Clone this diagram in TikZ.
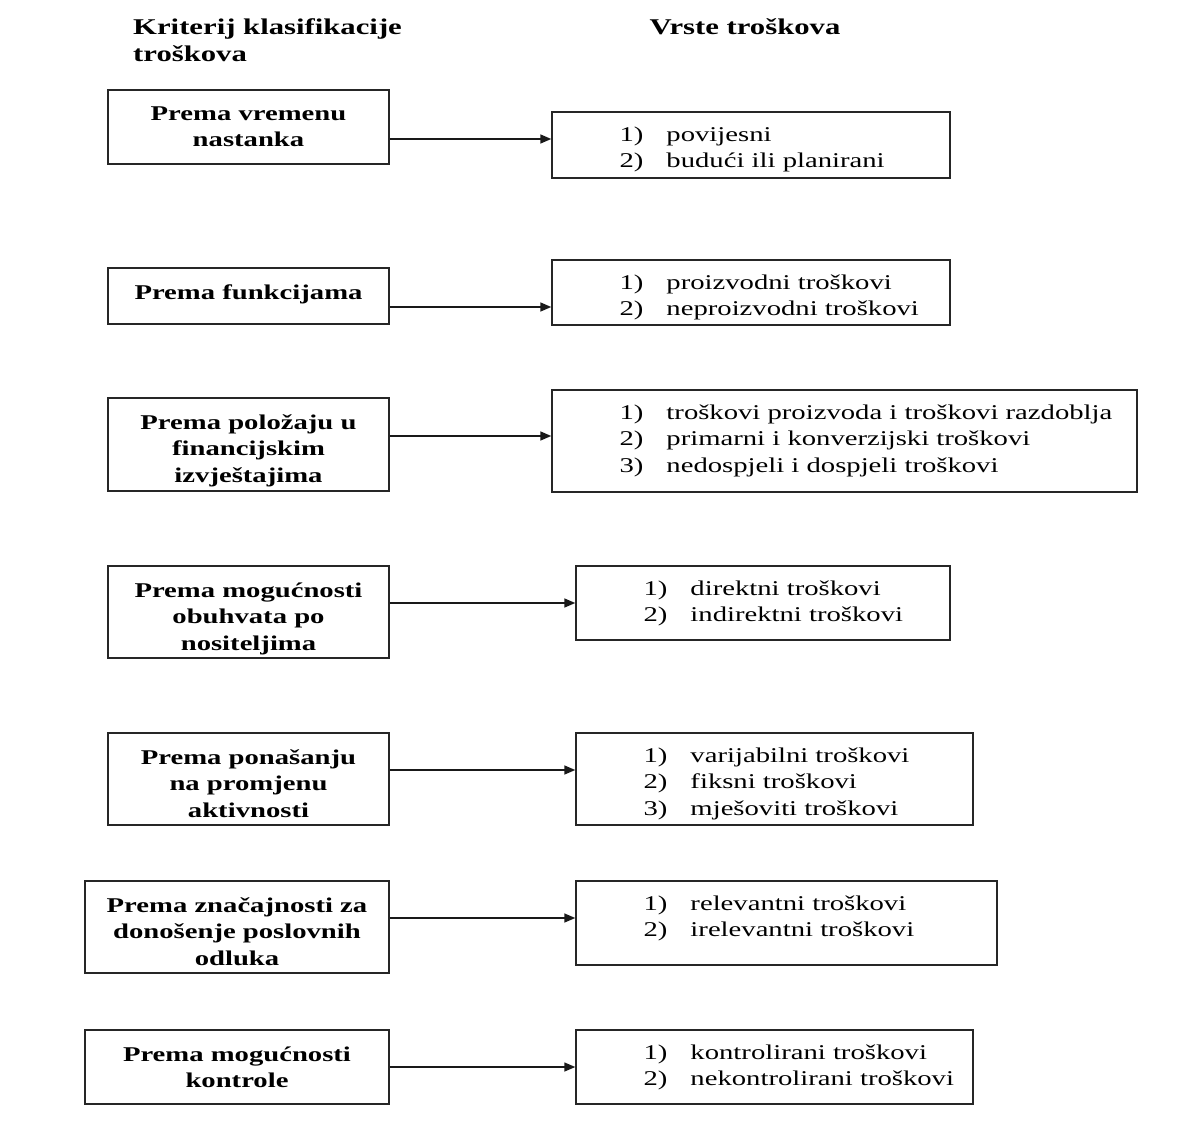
\documentclass[tikz,border=0pt]{standalone}
\usepackage{fontspec}
\setmainfont{Liberation Serif}[FakeStretch=1.365]
\usetikzlibrary{arrows.meta}

\newcommand{\stavka}[2]{\makebox[47pt][l]{#1}#2}

\begin{document}
\begin{tikzpicture}[x=1pt,y=-1pt,
	okvir/.style={draw=black!85,line width=1.4pt,inner sep=0pt},
	kriterij/.style={align=center,inner sep=0pt,anchor=north,
		font=\bfseries\fontsize{21}{26.5}\selectfont},
	vrsta/.style={align=left,inner sep=0pt,anchor=north west,
		font=\fontsize{21}{26.5}\selectfont},
	naslov/.style={align=left,inner sep=0pt,font=\bfseries\fontsize{22.5}{27}\selectfont},
	strelica/.style={-{Triangle[length=11pt,width=9pt]},line width=1.4pt,black!90}]
			\useasboundingbox (0,0) rectangle (1192,1123);

			% Naslovi
			\node[naslov,anchor=north west] (h1) at (133,18) {Kriterij klasifikacije\\troškova};
			\node[naslov,anchor=north] (h2) at (745,18) {Vrste troškova};

			% Kriteriji
			\node[okvir,minimum width=281pt,minimum height=74pt] (k1) at (248.5,127) {};
			\node[okvir,minimum width=281pt,minimum height=56pt] (k2) at (248.5,296) {};
			\node[okvir,minimum width=281pt,minimum height=93pt] (k3) at (248.5,444.5) {};
			\node[okvir,minimum width=281pt,minimum height=92pt] (k4) at (248.5,612) {};
			\node[okvir,minimum width=281pt,minimum height=92pt] (k5) at (248.5,779) {};
			\node[okvir,minimum width=304pt,minimum height=92pt] (k6) at (237,927) {};
			\node[okvir,minimum width=304pt,minimum height=74pt] (k7) at (237,1067) {};

			\node[kriterij] (kt1) at ([yshift=-17pt]k1.north) {Prema vremenu\\nastanka};
			\node[kriterij] (kt2) at ([yshift=-17pt]k2.north) {Prema funkcijama};
			\node[kriterij] (kt3) at ([yshift=-17pt]k3.north) {Prema položaju u\\financijskim\\izvještajima};
			\node[kriterij] (kt4) at ([yshift=-17pt]k4.north) {Prema mogućnosti\\obuhvata po\\nositeljima};
			\node[kriterij] (kt5) at ([yshift=-17pt]k5.north) {Prema ponašanju\\na promjenu\\aktivnosti};
			\node[kriterij] (kt6) at ([yshift=-17pt]k6.north) {Prema značajnosti za\\donošenje poslovnih\\odluka};
			\node[kriterij] (kt7) at ([yshift=-17pt]k7.north) {Prema mogućnosti\\kontrole};

			% Vrste troskova
			\node[okvir,minimum width=398pt,minimum height=66pt] (v1) at (751,145) {};
			\node[okvir,minimum width=398pt,minimum height=65pt] (v2) at (751,292.5) {};
			\node[okvir,minimum width=585pt,minimum height=102pt] (v3) at (844.5,441) {};
			\node[okvir,minimum width=374pt,minimum height=74pt] (v4) at (763,603) {};
			\node[okvir,minimum width=397pt,minimum height=92pt] (v5) at (774.5,779) {};
			\node[okvir,minimum width=421pt,minimum height=84pt] (v6) at (786.5,923) {};
			\node[okvir,minimum width=397pt,minimum height=74pt] (v7) at (774.5,1067) {};

			\node[vrsta] (vt1) at ([xshift=68pt,yshift=-15pt]v1.north west) {\stavka{1)}{povijesni}\\\stavka{2)}{budući ili planirani}};
			\node[vrsta] (vt2) at ([xshift=68pt,yshift=-15pt]v2.north west) {\stavka{1)}{proizvodni troškovi}\\\stavka{2)}{neproizvodni troškovi}};
			\node[vrsta] (vt3) at ([xshift=68pt,yshift=-15pt]v3.north west) {\stavka{1)}{troškovi proizvoda i troškovi razdoblja}\\\stavka{2)}{primarni i konverzijski troškovi}\\\stavka{3)}{nedospjeli i dospjeli troškovi}};
			\node[vrsta] (vt4) at ([xshift=68pt,yshift=-15pt]v4.north west) {\stavka{1)}{direktni troškovi}\\\stavka{2)}{indirektni troškovi}};
			\node[vrsta] (vt5) at ([xshift=68pt,yshift=-15pt]v5.north west) {\stavka{1)}{varijabilni troškovi}\\\stavka{2)}{fiksni troškovi}\\\stavka{3)}{mješoviti troškovi}};
			\node[vrsta] (vt6) at ([xshift=68pt,yshift=-15pt]v6.north west) {\stavka{1)}{relevantni troškovi}\\\stavka{2)}{irelevantni troškovi}};
			\node[vrsta] (vt7) at ([xshift=68pt,yshift=-15pt]v7.north west) {\stavka{1)}{kontrolirani troškovi}\\\stavka{2)}{nekontrolirani troškovi}};

			% Strelice
			\foreach \i/\dy in {1/-12,2/-11,3/8.5,4/9,5/9,6/9,7/0}
				\draw[strelica] ([yshift=\dy pt]k\i.east) coordinate (s\i) -- (s\i -| v\i.west);

		    \end{tikzpicture}
\end{document}
